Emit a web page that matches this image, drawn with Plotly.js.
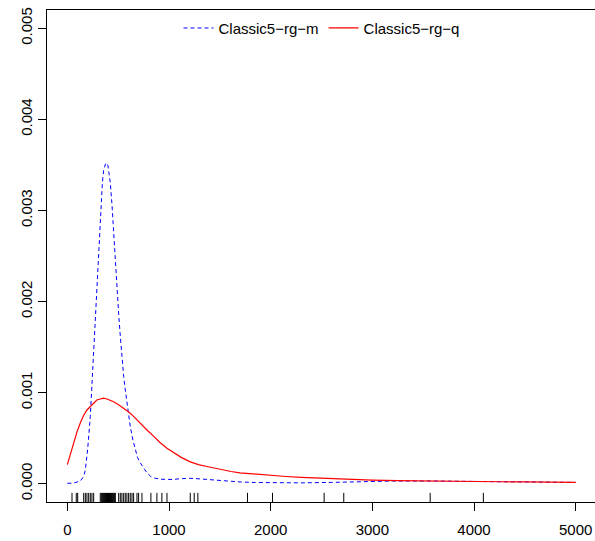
<!DOCTYPE html>
<html>
<head>
<meta charset="utf-8">
<script src="https://cdn.plot.ly/plotly-3.0.1.min.js"></script>
<style>
html,body{margin:0;padding:0;overflow:hidden;background:#fff;}
#chart{width:600px;height:541px;}
</style>
</head>
<body>
<div id="chart"></div>
<script>
// Series names
var seriesNames = ["Classic5\u2212rg\u2212m", "Classic5\u2212rg\u2212q"];

// Density curve for Classic5-rg-m (x, density)
var mX = [0, 60, 128, 160, 177, 200, 226, 259, 285, 308, 331, 345, 357, 367, 375, 383, 390, 400, 410, 423, 440, 455, 470, 488, 505, 521, 537, 554, 570, 587, 603, 619, 645, 668, 690, 717, 750, 783, 820, 865, 920, 980, 1040, 1100, 1150, 1200, 1250, 1307, 1400, 1504, 1600, 1700, 1850, 2000, 2300, 2600, 2900, 3200, 3600, 4000, 4500, 5000];
var mY = [0.000005, 0.000008, 0.00003, 0.00008, 0.00015, 0.00038, 0.00074, 0.00147, 0.00209, 0.00257, 0.00311, 0.00331, 0.00344, 0.00349, 0.00351, 0.00352, 0.00352, 0.00349, 0.00342, 0.00330, 0.00305, 0.00275, 0.00244, 0.00213, 0.00186, 0.00162, 0.00139, 0.00118, 0.00103, 0.00089, 0.00075, 0.00063, 0.00048, 0.00037, 0.00029, 0.00023, 0.00017, 0.00012, 0.00008, 0.00006, 0.00005, 0.000045, 0.000047, 0.000055, 0.00006, 0.00006, 0.000058, 0.000053, 0.00004, 0.00003, 0.000024, 0.00002, 0.000014, 0.00001, 0.00001, 0.000015, 0.000025, 0.00003, 0.00003, 0.000025, 0.00002, 0.000015];

// Density curve for Classic5-rg-q (x, density)
var qX = [0, 30, 62, 95, 128, 160, 193, 226, 259, 290, 324, 357, 390, 420, 455, 500, 554, 600, 652, 720, 783, 850, 914, 980, 1045, 1120, 1209, 1290, 1373, 1450, 1533, 1610, 1697, 1850, 2000, 2150, 2300, 2450, 2600, 2800, 3000, 3250, 3500, 3750, 4000, 4250, 4500, 4750, 5000];
var qY = [0.00021, 0.00033, 0.00045, 0.00057, 0.00067, 0.00075, 0.00081, 0.00085, 0.00089, 0.00092, 0.00093, 0.00094, 0.00093, 0.00092, 0.00090, 0.00087, 0.00083, 0.00079, 0.00074, 0.00066, 0.00059, 0.00052, 0.00045, 0.00039, 0.00034, 0.00029, 0.00024, 0.00021, 0.00019, 0.00017, 0.00015, 0.000135, 0.00012, 0.000105, 0.00009, 0.00008, 0.00007, 0.000062, 0.000055, 0.000047, 0.00004, 0.000035, 0.00003, 0.000027, 0.000025, 0.000022, 0.00002, 0.000017, 0.000015];

// Rug observations
var rugX = [46, 88, 102, 161, 177, 193, 210, 226, 242, 259, 324, 335, 345, 355, 365, 375, 385, 395, 405, 415, 425, 435, 445, 455, 465, 472, 505, 521, 537, 554, 570, 586, 603, 619, 636, 652, 685, 701, 734, 822, 881, 930, 980, 1209, 1248, 1284, 1772, 2018, 2526, 2719, 3569, 4092];

// Axis ticks
var xTicks = [0, 1000, 2000, 3000, 4000, 5000];
var yTicks = [0, 0.001, 0.002, 0.003, 0.004, 0.005];

// Rug segments (bottom of plot up a short distance)
var rugBottom = -0.0002, rugTop = -0.0001;
var rugSegX = [], rugSegY = [];
rugX.forEach(function(v){ rugSegX.push(v, v, null); rugSegY.push(rugBottom, rugTop, null); });

var traces = [
  {x: mX, y: mY, type: 'scatter', mode: 'lines', name: seriesNames[0],
   line: {color: '#0000ff', width: 1, dash: '4px,3px'}, hoverinfo: 'skip'},
  {x: qX, y: qY, type: 'scatter', mode: 'lines', name: seriesNames[1],
   line: {color: '#ff0000', width: 1.2}, hoverinfo: 'skip'},
  {x: rugSegX, y: rugSegY, type: 'scatter', mode: 'lines', showlegend: false, hoverinfo: 'skip',
   connectgaps: false, line: {color: '#000', width: 1}}
];

var axisFont = {family: 'Liberation Sans, Arial, sans-serif', size: 15, color: '#000'};

var layout = {
  width: 600, height: 541,
  margin: {l: 47, r: 4, t: 10, b: 39},
  paper_bgcolor: '#fff', plot_bgcolor: '#fff',
  font: axisFont,
  showlegend: true,
  legend: {orientation: 'h', x: 0.5, xanchor: 'center', y: 0.963, yanchor: 'middle',
           font: axisFont, bgcolor: 'rgba(0,0,0,0)', borderwidth: 0},
  xaxis: {range: [-200, 5200], tickvals: xTicks, ticktext: xTicks.map(String),
          showline: true, mirror: true, linecolor: '#000', linewidth: 1,
          ticks: 'outside', ticklen: 8, tickwidth: 1, tickcolor: '#000',
          showgrid: false, zeroline: false, tickfont: axisFont, ticklabelstandoff: 6},
  yaxis: {range: [-0.0002, 0.0052], tickvals: yTicks, ticktext: yTicks.map(function(v){return v.toFixed(3);}),
          showline: true, mirror: true, linecolor: '#000', linewidth: 1,
          ticks: 'outside', ticklen: 8, tickwidth: 1, tickcolor: '#000', tickangle: -90,
          showgrid: false, zeroline: false, tickfont: axisFont}
};

Plotly.newPlot('chart', traces, layout, {staticPlot: true, displayModeBar: false});
</script>
</body>
</html>
